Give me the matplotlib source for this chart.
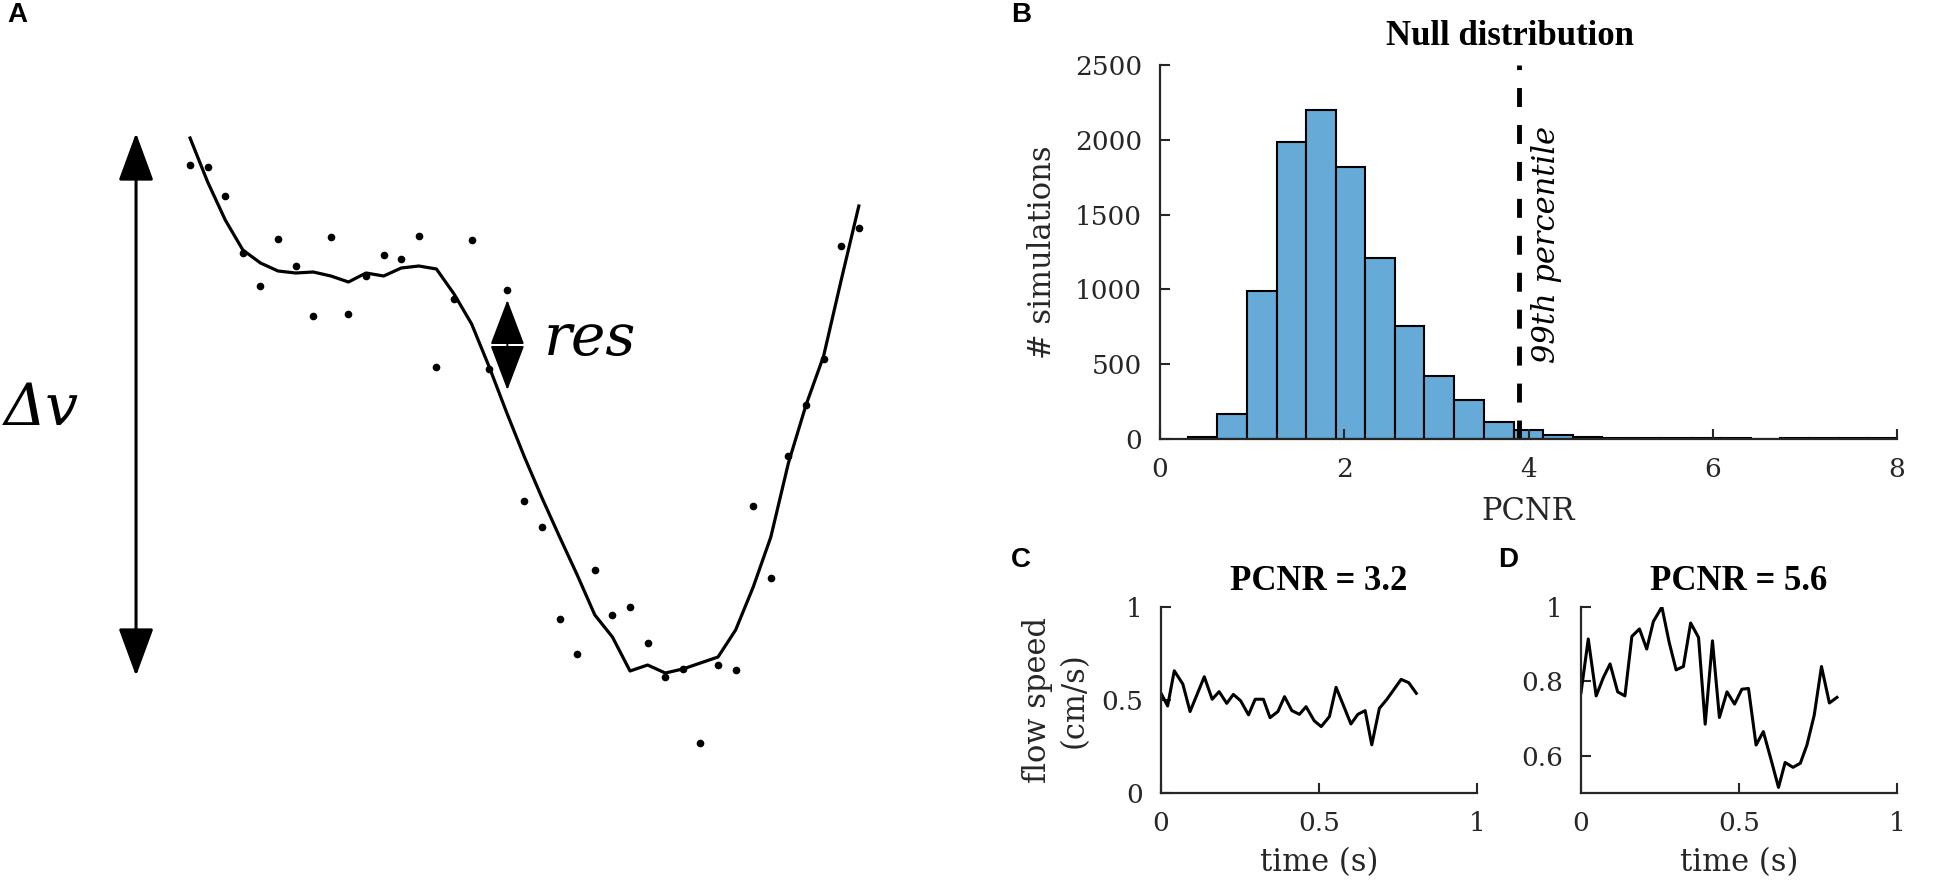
import numpy as np
import matplotlib
matplotlib.use("Agg")
import matplotlib.pyplot as plt

W, H = 1952, 894

# ---- panel A: schematic of fit residual (arbitrary units) ----
# sample index 0..38, signal in a.u.
a_fit = [756, 712, 674, 644, 631, 623, 621, 622, 618, 612, 621, 618, 626, 628, 625,
         600, 570, 527, 481, 437, 396, 357, 319, 279, 257, 223, 229, 221, 225, 231,
         237, 264, 307, 357, 431, 489, 538, 614, 688]
a_raw = [729, 727, 698, 641, 608, 655, 628, 578, 657, 580, 618, 639, 635, 658, 527,
         595, 654, 525, 604, 393, 367, 275, 240, 324, 279, 287, 251, 217, 225, 151,
         229, 224, 388, 316, 438, 489, 535, 648, 666]
dv_range = [218, 761]
dv_idx = -3.07
res_range = [504, 594]
res_idx = 18.03

# ---- panel B: null distribution ----
bin_edges = [0.30, 0.62, 0.94, 1.27, 1.59, 1.91, 2.23, 2.55, 2.87, 3.19, 3.52, 3.84,
             4.16, 4.48, 4.80, 5.12, 5.44, 5.77, 6.09, 6.41, 6.73, 7.05, 7.37, 7.70, 8.02]
bin_counts = [13, 170, 987, 1987, 2197, 1821, 1209, 758, 420, 258, 113, 57,
              29, 12, 7, 5, 4, 4, 9, 3, 6, 6, 6, 6]
pctl_99 = 3.9

# ---- panels C, D: example flow speed traces ----
t = [0.000, 0.021, 0.042, 0.069, 0.092, 0.137, 0.162, 0.184, 0.208, 0.229, 0.252, 0.277,
     0.298, 0.324, 0.345, 0.370, 0.391, 0.414, 0.438, 0.459, 0.485, 0.507, 0.533, 0.554,
     0.578, 0.601, 0.623, 0.646, 0.667, 0.691, 0.715, 0.736, 0.760, 0.784, 0.808]
speed_c = [0.536, 0.468, 0.657, 0.586, 0.438, 0.625, 0.504, 0.545, 0.482, 0.530, 0.496, 0.420,
           0.504, 0.504, 0.405, 0.438, 0.518, 0.443, 0.423, 0.464, 0.388, 0.357, 0.411, 0.568,
           0.468, 0.371, 0.423, 0.443, 0.259, 0.455, 0.504, 0.554, 0.611, 0.593, 0.536]
t_d = [0.000, 0.023, 0.048, 0.071, 0.092, 0.116, 0.139, 0.161, 0.185, 0.208, 0.229, 0.256,
       0.279, 0.301, 0.324, 0.347, 0.372, 0.393, 0.416, 0.438, 0.462, 0.486, 0.509, 0.530,
       0.554, 0.577, 0.601, 0.625, 0.646, 0.671, 0.694, 0.715, 0.738, 0.761, 0.786, 0.810]
speed_d = [0.770, 0.914, 0.761, 0.811, 0.847, 0.772, 0.761, 0.921, 0.941, 0.887, 0.961, 1.000,
           0.905, 0.831, 0.840, 0.957, 0.918, 0.685, 0.909, 0.703, 0.772, 0.739, 0.779, 0.781,
           0.629, 0.665, 0.591, 0.515, 0.582, 0.569, 0.580, 0.629, 0.709, 0.840, 0.742, 0.757]

SERIF = "DejaVu Serif"
AXCOL = "#262626"
plt.rcParams["font.family"] = SERIF


def rect(x0, y0, x1, y1):
    return [x0 / W, 1 - y1 / H, (x1 - x0) / W, (y1 - y0) / H]


def matlab_axes(ax):
    for s in ("top", "right"):
        ax.spines[s].set_visible(False)
    for s in ("left", "bottom"):
        ax.spines[s].set_linewidth(1.6)
        ax.spines[s].set_color(AXCOL)
    ax.tick_params(direction="in", length=7, width=1.5, colors=AXCOL,
                   labelsize=19, pad=13)


fig = plt.figure(figsize=(W / 100, H / 100), dpi=100)

# panel A
ax_a = fig.add_axes(rect(0, 0, 1075, H))
ax_a.set_axis_off()
idx = np.arange(len(a_fit))
ax_a.plot(idx, a_fit, color="black", lw=2.3)
ax_a.plot(idx, a_raw, "o", color="black", ms=4.5)
ax_a.set_xlim(-10.8, (1075 - 190) / 17.6)
ax_a.set_ylim(0, H)
ax_a.annotate("", xy=(dv_idx, dv_range[1]), xytext=(dv_idx, dv_range[0]),
              arrowprops=dict(arrowstyle="<|-|>,head_length=1.5,head_width=0.55",
                              color="black", lw=2.2, mutation_scale=20,
                              shrinkA=0, shrinkB=0))
ax_a.annotate("", xy=(res_idx, res_range[1]), xytext=(res_idx, res_range[0]),
              arrowprops=dict(arrowstyle="<|-|>,head_length=1.45,head_width=0.55",
                              color="black", lw=1.4, mutation_scale=20,
                              shrinkA=0, shrinkB=0))
ax_a.text(20.1, 539, "res", fontsize=42, style="italic", ha="left", va="baseline")
ax_a.text(-10.6, 485, "\u0394v", fontsize=42, style="italic", ha="left", va="center")

# panel B
ax_b = fig.add_axes(rect(1160, 65, 1897, 439))
ax_b.bar(bin_edges[:-1], bin_counts, width=np.diff(bin_edges), align="edge",
         color="#66AAD7", edgecolor="black", linewidth=1.5)
ax_b.axvline(pctl_99, color="black", lw=3.5, linestyle=(0, (3.9, 3.7)))
ax_b.text(pctl_99 + 0.13, 1300, "99th percentile", rotation=90, style="italic",
          fontsize=22, ha="left", va="center", color="black")
ax_b.set_xlim(0, 8)
ax_b.set_ylim(0, 2500)
ax_b.set_xticks([0, 2, 4, 6, 8])
ax_b.set_yticks([0, 500, 1000, 1500, 2000, 2500])
matlab_axes(ax_b)
ax_b.set_xlabel("PCNR", fontsize=22, color=AXCOL, labelpad=10)
ax_b.set_ylabel("# simulations", fontsize=22, color=AXCOL, labelpad=12)
ax_b.text(3.8, 1.075, "Null distribution", transform=ax_b.get_xaxis_transform(),
          ha="center", va="center", fontsize=25, fontweight="bold",
          family="Liberation Serif")

# panel C
ax_c = fig.add_axes(rect(1161, 607, 1477, 793))
ax_c.plot(t, speed_c, color="black", lw=2.2)
ax_c.set_xlim(0, 1)
ax_c.set_ylim(0, 1)
ax_c.set_xticks([0, 0.5, 1])
ax_c.set_xticklabels(["0", "0.5", "1"])
ax_c.set_yticks([0, 0.5, 1])
ax_c.set_yticklabels(["0", "0.5", "1"])
matlab_axes(ax_c)
ax_c.set_xlabel("time (s)", fontsize=22, color=AXCOL, labelpad=8)
ax_c.set_ylabel("flow speed\n(cm/s)", fontsize=22, color=AXCOL, labelpad=8,
                linespacing=1.25)
ax_c.set_title("PCNR = 3.2", fontsize=25, fontweight="bold",
               family="Liberation Serif", pad=12)

# panel D
ax_d = fig.add_axes(rect(1581, 607, 1897, 793))
ax_d.plot(t_d, speed_d, color="black", lw=2.2)
ax_d.set_xlim(0, 1)
ax_d.set_ylim(0.5, 1)
ax_d.set_xticks([0, 0.5, 1])
ax_d.set_xticklabels(["0", "0.5", "1"])
ax_d.set_yticks([0.6, 0.8, 1])
ax_d.set_yticklabels(["0.6", "0.8", "1"])
matlab_axes(ax_d)
ax_d.set_xlabel("time (s)", fontsize=22, color=AXCOL, labelpad=8)
ax_d.set_title("PCNR = 5.6", fontsize=25, fontweight="bold",
               family="Liberation Serif", pad=12)

# panel letters
for lab, x, y in [("A", 7, 15), ("B", 1011, 15), ("C", 1011, 560), ("D", 1498, 560)]:
    fig.text(x / W, 1 - y / H, lab, fontsize=20, fontweight="bold",
             family="Liberation Sans", ha="left", va="center")

fig.savefig("out.png", dpi=100)
